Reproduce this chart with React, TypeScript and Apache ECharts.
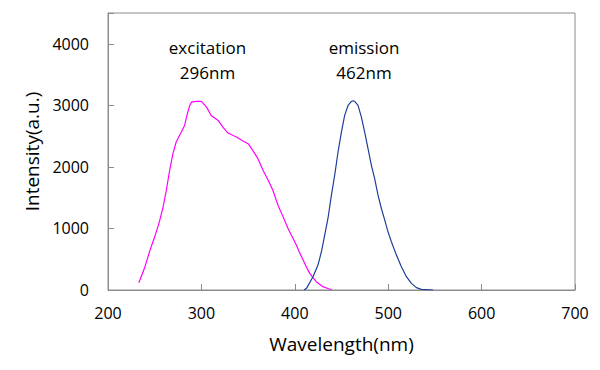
import React, { useEffect, useRef } from "react";
import * as echarts from "echarts";

const excitationWl = [233, 239, 245, 250, 255, 259, 262.5, 266, 269.5, 273, 278.5, 282, 284.5, 287.5, 289.5, 294.5, 300, 305.5, 310.5, 318, 323, 328.5, 337.5, 344.5, 350, 355, 360.5, 366, 371.5, 376.5, 382, 387.5, 393, 398, 402, 405, 409, 412.5, 416, 419.5, 423, 430, 437, 439.5];
const excitationI = [118, 352, 648, 864, 1107, 1350, 1621, 1945, 2215, 2404, 2566, 2674, 2836, 2998, 3052, 3063, 3063, 2971, 2836, 2755, 2647, 2550, 2485, 2420, 2377, 2269, 2134, 1945, 1783, 1621, 1378, 1188, 990, 840, 720, 610, 486, 370, 270, 200, 135, 54, 16, 8];

const emissionWl = [410, 412.5, 419.5, 424.8, 428.5, 432, 435.5, 439.2, 442.7, 446.3, 449.9, 453.4, 457, 460.6, 462.3, 464.1, 467.7, 471.3, 474.8, 478.4, 482, 485.5, 489.1, 492.7, 496.3, 499.8, 503.4, 508.8, 514.1, 519.5, 524.8, 530.2, 535.5, 548];
const emissionI = [0, 27, 216, 405, 621, 891, 1162, 1540, 1864, 2242, 2566, 2836, 2998, 3063, 3075, 3063, 2998, 2809, 2566, 2296, 2026, 1810, 1540, 1324, 1135, 945, 783, 567, 378, 216, 108, 38, 10, 0];

const xTicks = { min: 200, max: 700, interval: 100 };
const yTicks = { min: 0, max: 4500, interval: 1000 };

const annotations = [
  { text: "excitation\n296nm", x: 207.5, y: 35 },
  { text: "emission\n462nm", x: 364, y: 35 },
];

const FONT = "'Open Sans', 'Noto Sans', sans-serif";

export default function App() {
  const ref = useRef<HTMLDivElement>(null);
  useEffect(() => {
    if (!ref.current) return;
    const chart = echarts.init(ref.current, null, { renderer: "svg" });
    const axisColor = "#8c8c8c";
    chart.setOption({
      animation: false,
      backgroundColor: "#ffffff",
      textStyle: { fontFamily: FONT },
      grid: {
        left: 108,
        top: 13,
        right: 25,
        bottom: 80,
        show: true,
        borderColor: axisColor,
        borderWidth: 1,
        outerBoundsMode: "none",
        containLabel: false,
      },
      xAxis: {
        type: "value",
        min: xTicks.min,
        max: xTicks.max,
        interval: xTicks.interval,
        name: "Wavelength(nm)",
        nameLocation: "middle",
        nameGap: 44,
        nameTextStyle: { color: "#000", fontSize: 19, fontFamily: FONT },
        axisLine: { show: true, lineStyle: { color: axisColor, width: 1 } },
        axisTick: { show: true, inside: true, length: 6, lineStyle: { color: axisColor } },
        axisLabel: { color: "#000", fontSize: 16, margin: 15, fontFamily: FONT },
        splitLine: { show: false },
      },
      yAxis: {
        type: "value",
        min: yTicks.min,
        max: yTicks.max,
        interval: yTicks.interval,
        name: "Intensity(a.u.)",
        nameLocation: "middle",
        nameGap: 60,
        nameTextStyle: { color: "#000", fontSize: 19, fontFamily: FONT },
        axisLine: { show: true, lineStyle: { color: axisColor, width: 1 } },
        axisTick: { show: true, inside: true, length: 6, lineStyle: { color: axisColor } },
        axisLabel: {
          color: "#000",
          fontSize: 16,
          margin: 19,
          fontFamily: FONT,
          formatter: (v: number) => (v > 4000 ? "" : String(v)),
        },
        splitLine: { show: false },
      },
      series: [
        {
          name: "excitation",
          type: "line",
          data: excitationWl.map((w, i) => [w, excitationI[i]]),
          showSymbol: false,
          lineStyle: { color: "#ff00ff", width: 1.2 },
          itemStyle: { color: "#ff00ff" },
        },
        {
          name: "emission",
          type: "line",
          data: emissionWl.map((w, i) => [w, emissionI[i]]),
          showSymbol: false,
          lineStyle: { color: "#1f3e9a", width: 1.2 },
          itemStyle: { color: "#1f3e9a" },
        },
      ],
      graphic: annotations.map((a) => ({
        type: "text",
        x: a.x,
        y: a.y,
        style: {
          text: a.text,
          fill: "#000",
          fontSize: 17,
          fontFamily: FONT,
          align: "center",
          verticalAlign: "top",
          lineHeight: 25,
        },
      })),
    });
    return () => chart.dispose();
  }, []);
  return <div ref={ref} style={{ width: 600, height: 370, position: "absolute", left: 0, top: 0 }} />;
}
